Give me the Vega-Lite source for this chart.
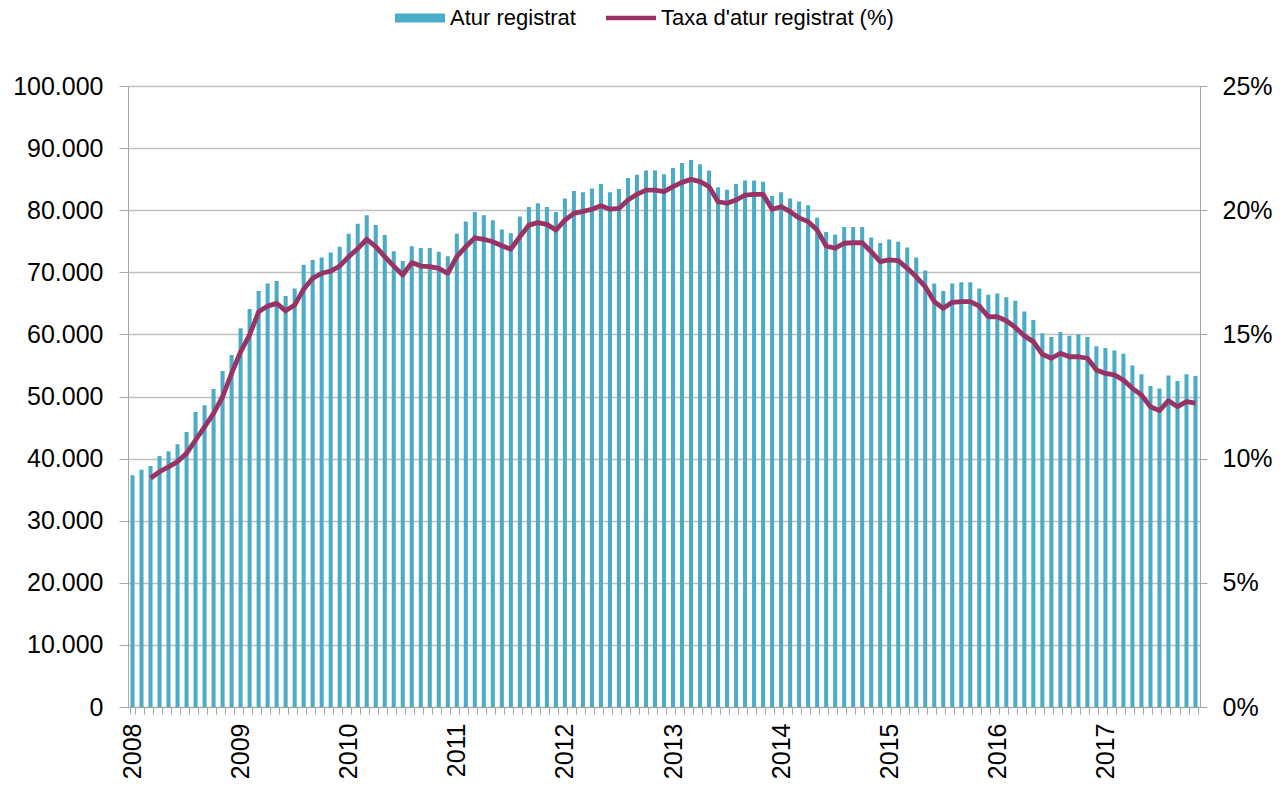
{
"$schema": "https://vega.github.io/schema/vega-lite/v6.json",
"autosize": {"type": "none"},
"width": 1072,
"height": 621,
"padding": {"left": 128, "top": 86, "right": 87, "bottom": 87},
"background": "white",
"config": {"font": "Liberation Sans", "view": {"stroke": null}},
"data": {"values": [
{"m":"2008-01","atur":37300,"taxa":null},{"m":"2008-02","atur":38200,"taxa":null},{"m":"2008-03","atur":38800,"taxa":9.21},{"m":"2008-04","atur":40400,"taxa":9.47},{"m":"2008-05","atur":41200,"taxa":9.67},{"m":"2008-06","atur":42300,"taxa":9.88},{"m":"2008-07","atur":44300,"taxa":10.21},{"m":"2008-08","atur":47500,"taxa":10.75},{"m":"2008-09","atur":48600,"taxa":11.28},{"m":"2008-10","atur":51200,"taxa":11.82},{"m":"2008-11","atur":54100,"taxa":12.49},{"m":"2008-12","atur":56700,"taxa":13.43},
{"m":"2009-01","atur":61000,"taxa":14.3},{"m":"2009-02","atur":64100,"taxa":14.98},{"m":"2009-03","atur":67000,"taxa":15.91},{"m":"2009-04","atur":68200,"taxa":16.14},{"m":"2009-05","atur":68600,"taxa":16.25},{"m":"2009-06","atur":66200,"taxa":15.95},{"m":"2009-07","atur":67400,"taxa":16.18},{"m":"2009-08","atur":71200,"taxa":16.82},{"m":"2009-09","atur":72000,"taxa":17.26},{"m":"2009-10","atur":72400,"taxa":17.46},{"m":"2009-11","atur":73200,"taxa":17.55},{"m":"2009-12","atur":74100,"taxa":17.75},
{"m":"2010-01","atur":76200,"taxa":18.13},{"m":"2010-02","atur":77800,"taxa":18.45},{"m":"2010-03","atur":79200,"taxa":18.83},{"m":"2010-04","atur":77600,"taxa":18.53},{"m":"2010-05","atur":76000,"taxa":18.13},{"m":"2010-06","atur":73400,"taxa":17.75},{"m":"2010-07","atur":71800,"taxa":17.39},{"m":"2010-08","atur":74200,"taxa":17.89},{"m":"2010-09","atur":73900,"taxa":17.75},{"m":"2010-10","atur":73900,"taxa":17.73},{"m":"2010-11","atur":73300,"taxa":17.66},{"m":"2010-12","atur":72600,"taxa":17.46},
{"m":"2011-01","atur":76200,"taxa":18.13},{"m":"2011-02","atur":78200,"taxa":18.53},{"m":"2011-03","atur":79700,"taxa":18.89},{"m":"2011-04","atur":79200,"taxa":18.83},{"m":"2011-05","atur":78400,"taxa":18.73},{"m":"2011-06","atur":76900,"taxa":18.57},{"m":"2011-07","atur":76300,"taxa":18.43},{"m":"2011-08","atur":79000,"taxa":18.93},{"m":"2011-09","atur":80500,"taxa":19.4},{"m":"2011-10","atur":81100,"taxa":19.5},{"m":"2011-11","atur":80500,"taxa":19.43},{"m":"2011-12","atur":79700,"taxa":19.2},
{"m":"2012-01","atur":81900,"taxa":19.6},{"m":"2012-02","atur":83100,"taxa":19.87},{"m":"2012-03","atur":82900,"taxa":19.95},{"m":"2012-04","atur":83500,"taxa":20.04},{"m":"2012-05","atur":84200,"taxa":20.18},{"m":"2012-06","atur":82900,"taxa":20.04},{"m":"2012-07","atur":83400,"taxa":20.07},{"m":"2012-08","atur":85200,"taxa":20.41},{"m":"2012-09","atur":85700,"taxa":20.64},{"m":"2012-10","atur":86400,"taxa":20.81},{"m":"2012-11","atur":86400,"taxa":20.81},{"m":"2012-12","atur":85800,"taxa":20.75},
{"m":"2013-01","atur":86800,"taxa":20.95},{"m":"2013-02","atur":87600,"taxa":21.12},{"m":"2013-03","atur":88100,"taxa":21.24},{"m":"2013-04","atur":87400,"taxa":21.15},{"m":"2013-05","atur":86400,"taxa":20.95},{"m":"2013-06","atur":83700,"taxa":20.34},{"m":"2013-07","atur":83300,"taxa":20.28},{"m":"2013-08","atur":84200,"taxa":20.41},{"m":"2013-09","atur":84800,"taxa":20.61},{"m":"2013-10","atur":84800,"taxa":20.64},{"m":"2013-11","atur":84600,"taxa":20.64},{"m":"2013-12","atur":82300,"taxa":20.04},
{"m":"2014-01","atur":82900,"taxa":20.14},{"m":"2014-02","atur":81900,"taxa":19.94},{"m":"2014-03","atur":81400,"taxa":19.69},{"m":"2014-04","atur":80800,"taxa":19.54},{"m":"2014-05","atur":78800,"taxa":19.2},{"m":"2014-06","atur":76500,"taxa":18.56},{"m":"2014-07","atur":76100,"taxa":18.47},{"m":"2014-08","atur":77300,"taxa":18.67},{"m":"2014-09","atur":77300,"taxa":18.69},{"m":"2014-10","atur":77300,"taxa":18.69},{"m":"2014-11","atur":75600,"taxa":18.33},{"m":"2014-12","atur":74700,"taxa":17.93},
{"m":"2015-01","atur":75300,"taxa":18.0},{"m":"2015-02","atur":74900,"taxa":17.97},{"m":"2015-03","atur":74000,"taxa":17.66},{"m":"2015-04","atur":72400,"taxa":17.32},{"m":"2015-05","atur":70300,"taxa":16.92},{"m":"2015-06","atur":68200,"taxa":16.32},{"m":"2015-07","atur":67000,"taxa":16.05},{"m":"2015-08","atur":68200,"taxa":16.29},{"m":"2015-09","atur":68400,"taxa":16.32},{"m":"2015-10","atur":68400,"taxa":16.32},{"m":"2015-11","atur":67400,"taxa":16.14},{"m":"2015-12","atur":66400,"taxa":15.71},
{"m":"2016-01","atur":66600,"taxa":15.71},{"m":"2016-02","atur":66000,"taxa":15.55},{"m":"2016-03","atur":65400,"taxa":15.28},{"m":"2016-04","atur":63700,"taxa":14.94},{"m":"2016-05","atur":62300,"taxa":14.71},{"m":"2016-06","atur":60200,"taxa":14.2},{"m":"2016-07","atur":59600,"taxa":14.04},{"m":"2016-08","atur":60400,"taxa":14.24},{"m":"2016-09","atur":59800,"taxa":14.1},{"m":"2016-10","atur":60000,"taxa":14.1},{"m":"2016-11","atur":59600,"taxa":14.04},{"m":"2016-12","atur":58100,"taxa":13.57},
{"m":"2017-01","atur":57800,"taxa":13.43},{"m":"2017-02","atur":57400,"taxa":13.37},{"m":"2017-03","atur":56900,"taxa":13.16},{"m":"2017-04","atur":55000,"taxa":12.83},{"m":"2017-05","atur":53600,"taxa":12.56},{"m":"2017-06","atur":51700,"taxa":12.09},{"m":"2017-07","atur":51300,"taxa":11.93},{"m":"2017-08","atur":53400,"taxa":12.33},{"m":"2017-09","atur":52500,"taxa":12.09},{"m":"2017-10","atur":53600,"taxa":12.29},{"m":"2017-11","atur":53300,"taxa":12.23}
]},
"encoding": {
  "x": {"field": "m", "type": "ordinal",
    "scale": {"paddingInner": 0.55, "paddingOuter": 0.275},
    "axis": {"title": null, "labelExpr": "substring(datum.value,5,7)=='01' ? substring(datum.value,0,4) : ''",
      "labelAngle": 270, "labelFontSize": 25, "labelColor": "#000", "labelPadding": 9,
      "tickSize": 7, "tickColor": "#A6A6A6", "tickBand": "extent", "domainColor": "#A6A6A6",
      "labelOverlap": false, "labelBound": false, "grid": false}}
},
"layer": [
  {"mark": {"type": "bar"},
   "encoding": {
     "y": {"field": "atur", "type": "quantitative",
       "scale": {"domain": [0, 100000], "nice": false},
       "axis": {"title": null, "values": [0,10000,20000,30000,40000,50000,60000,70000,80000,90000,100000],
         "labelExpr": "datum.value == 0 ? '0' : format(datum.value/1000, 'd') + '.000'",
         "labelFontSize": 25, "labelColor": "#000", "tickSize": 9, "labelPadding": 16,
         "grid": true, "gridColor": "#BFBFBF", "gridWidth": 1.3, "domainColor": "#A6A6A6", "tickColor": "#A6A6A6"}},
     "color": {"datum": "Atur registrat", "type": "nominal",
       "scale": {"domain": ["Atur registrat", "Taxa d'atur registrat (%)"], "range": ["#4BACC6", "#993366"]},
       "legend": {"orient": "none", "legendX": 267, "legendY": -93, "direction": "horizontal", "title": null,
         "labelFontSize": 22, "labelColor": "#000", "labelFont": "Liberation Sans", "labelLimit": 500,
         "symbolSize": 2500, "labelOffset": 5, "columnPadding": 30, "symbolStrokeWidth": 0,
         "encode": {"symbols": {"update": {
           "shape": {"signal": "datum.value === 'Atur registrat' ? 'M-1,-0.18H1V0.18H-1Z' : 'M-1,-0.09H1V0.09H-1Z'"},
           "fill": {"scale": "color", "field": "value"},
           "stroke": {"value": "transparent"},
           "opacity": {"value": 1}}}}}}
   }},
  {"mark": {"type": "line", "strokeWidth": 4.8, "strokeJoin": "round"},
   "encoding": {
     "y": {"field": "taxa", "type": "quantitative",
       "scale": {"domain": [0, 25], "nice": false},
       "axis": {"orient": "right", "title": null, "values": [0,5,10,15,20,25],
         "labelExpr": "datum.value + '%'", "labelFontSize": 25, "labelColor": "#000",
         "tickSize": 7, "labelPadding": 15, "grid": false, "domainColor": "#A6A6A6", "tickColor": "#A6A6A6"}},
     "color": {"datum": "Taxa d'atur registrat (%)", "type": "nominal"}
   }}
],
"resolve": {"scale": {"y": "independent"}}
}
